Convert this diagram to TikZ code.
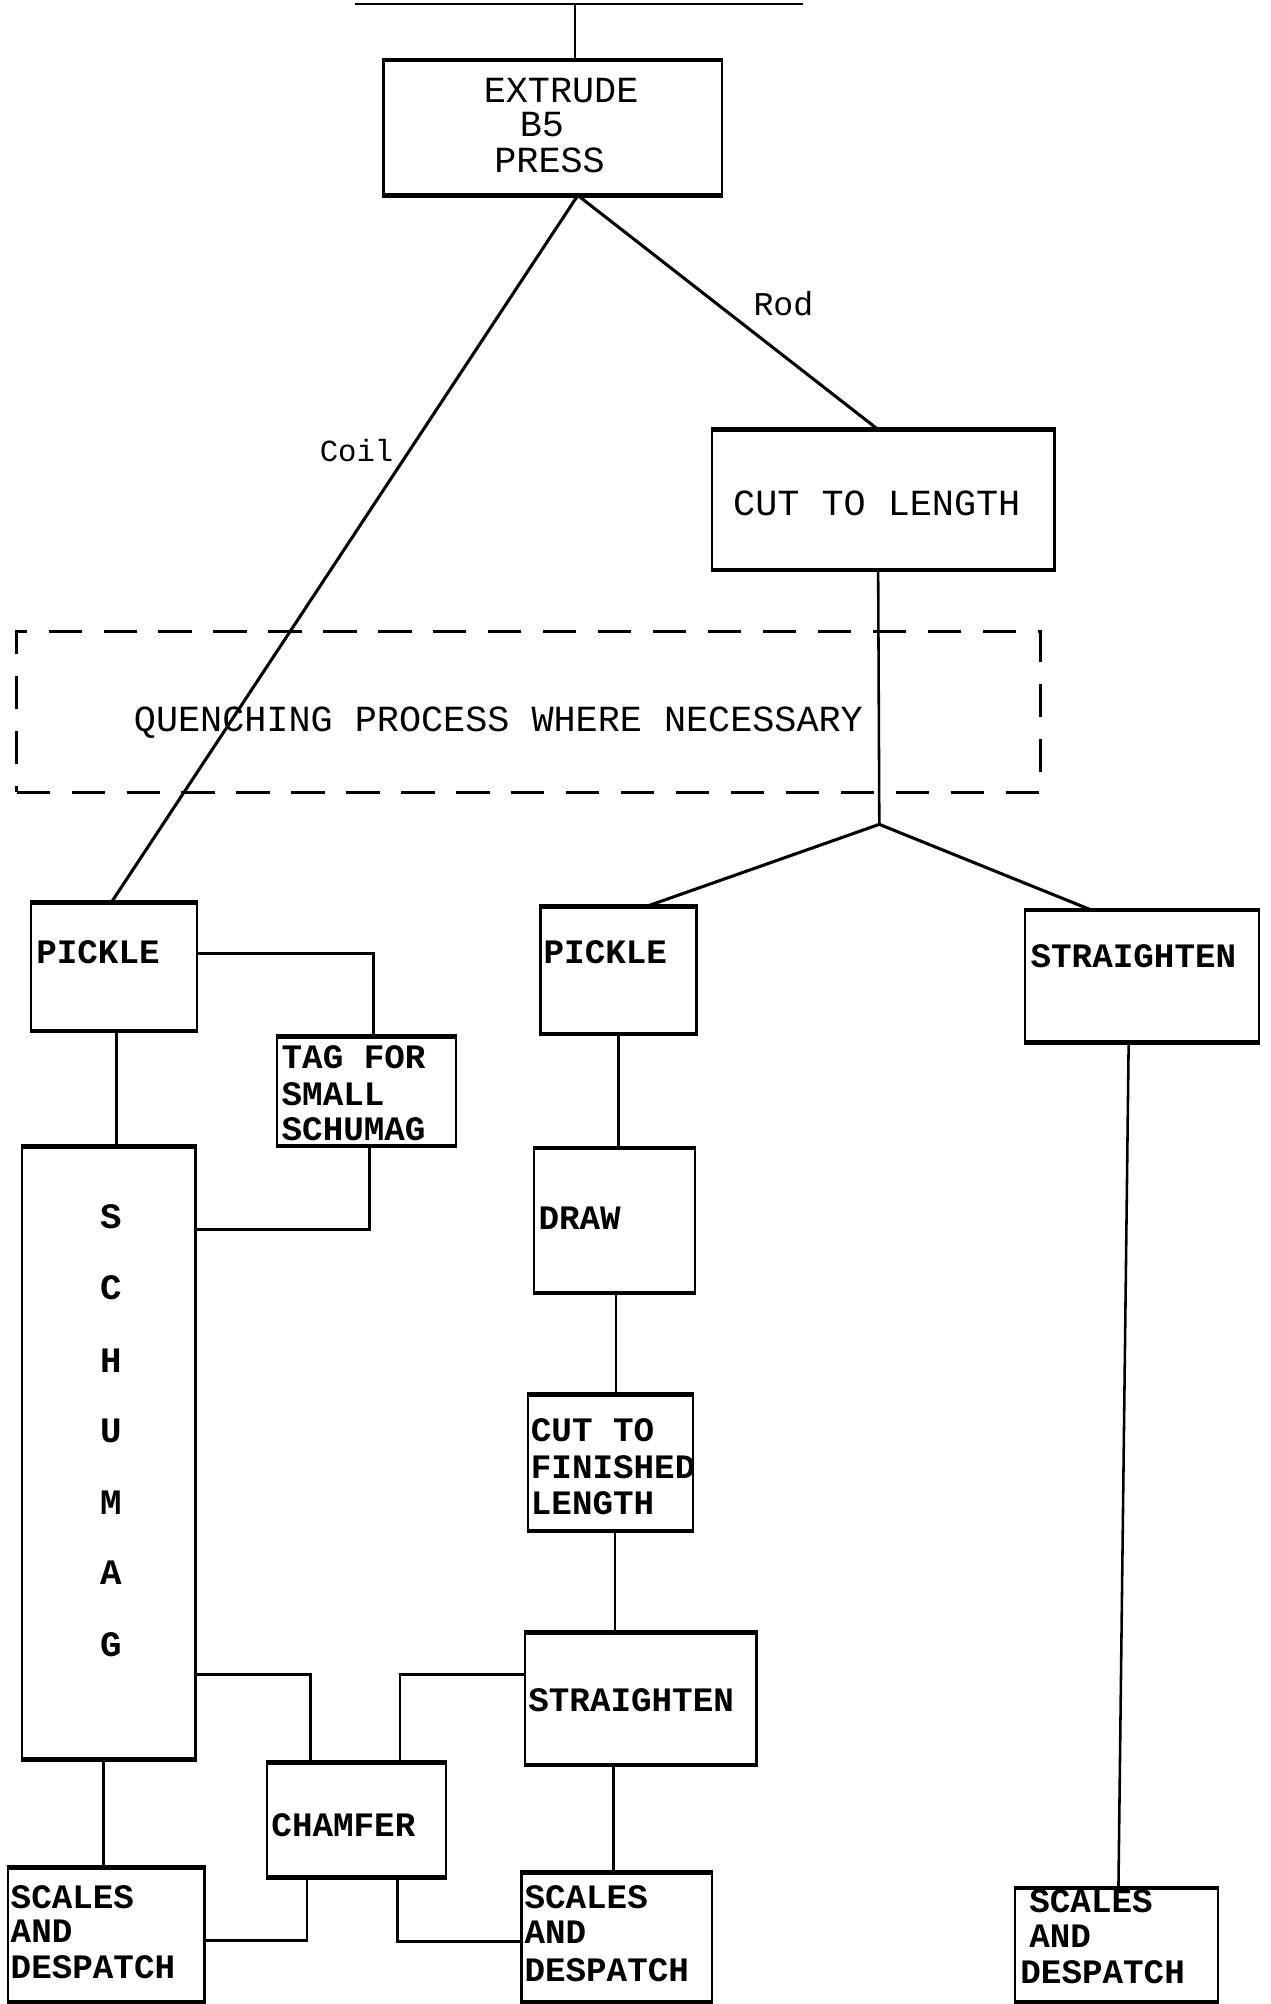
\documentclass[tikz,border=0pt]{standalone}
\usepackage{fontspec}
\newfontfamily\tw{Liberation Mono}
\usetikzlibrary{fit,calc}
\tikzset{
  box/.style={draw, line width=0.9pt, inner sep=0pt},
  edgeline/.style={line width=1.7pt},
  dashbox/.style={draw, line width=1.4pt, dash pattern=on 13pt off 8.5pt, inner sep=0pt},
  conn/.style={line width=1pt},
  diag/.style={line width=1.2pt},
  toptxt/.style={font=\tw\fontsize{14.4}{16}\selectfont, inner sep=0pt, anchor=base},
  labtxt/.style={font=\tw\fontsize{13}{15}\selectfont, inner sep=0pt, anchor=base},
  lowtxt/.style={font=\tw\fontsize{13.4}{15}\selectfont\bfseries, inner sep=0pt, anchor=base west},
  lettxt/.style={font=\tw\fontsize{14}{16}\selectfont\bfseries, inner sep=0pt, anchor=base},
}
\begin{document}
\begin{tikzpicture}[x=0.5pt,y=-0.5pt]
\useasboundingbox (0,0) rectangle (994,1568);

% boxes
\node[box, fit={(300,48) (565,152)}] (extrude) {};
\node[box, fit={(557,337) (825,445)}] (cutlen) {};
\node[dashbox, fit={(13,494) (814,620)}] (quench) {};
\node[box, fit={(24,707) (154,806)}] (pickleA) {};
\node[box, fit={(423,710) (545,808)}] (pickleB) {};
\node[box, fit={(802,713) (985,815)}] (straightA) {};
\node[box, fit={(217,812) (357,896)}] (tag) {};
\node[box, fit={(17,898) (153,1376)}] (schumag) {};
\node[box, fit={(418,899) (544,1011)}] (drawbox) {};
\node[box, fit={(413,1092) (542,1197)}] (cutfin) {};
\node[box, fit={(411,1278) (592,1380)}] (straightB) {};
\node[box, fit={(209,1380) (349,1468)}] (chamfer) {};
\node[box, fit={(6,1462) (160,1566)}] (scalesA) {};
\node[box, fit={(408,1466) (557,1566)}] (scalesB) {};
\node[box, fit={(794,1478) (953,1566)}] (scalesC) {};

\foreach \n in {extrude,cutlen,pickleA,pickleB,straightA,tag,schumag,drawbox,cutfin,straightB,chamfer,scalesA,scalesB,scalesC}
  \draw[edgeline] (\n.north west) -- (\n.north east) (\n.south west) -- (\n.south east);

% texts
\node[toptxt] (t1) at (439,80) {EXTRUDE};
\node[toptxt] (t2) at (424,107) {B5};
\node[toptxt] (t3) at (430,135) {PRESS};
\node[labtxt] (rod) at (613,247) {Rod};
\node[labtxt, font=\tw\fontsize{12}{14}\selectfont] (coil) at (279,361) {Coil};
\node[toptxt] (t4) at (686,403) {CUT TO LENGTH};
\node[toptxt] (t5) at (390,572) {QUENCHING PROCESS WHERE NECESSARY};

\node[lowtxt] (p1) at (28,754) {PICKLE};
\node[lowtxt] (p2) at (425,754) {PICKLE};
\node[lowtxt] (s1) at (806,757) {STRAIGHTEN};
\node[lowtxt] (g1) at (220,836) {TAG FOR};
\node[lowtxt] (g2) at (220,865) {SMALL};
\node[lowtxt] (g3) at (220,892) {SCHUMAG};
\node[lettxt] (l1) at (87,961) {S};
\node[lettxt] (l2) at (87,1017) {C};
\node[lettxt] (l3) at (87,1074) {H};
\node[lettxt] (l4) at (87,1129) {U};
\node[lettxt] (l5) at (87,1185) {M};
\node[lettxt] (l6) at (87,1240) {A};
\node[lettxt] (l7) at (87,1296) {G};
\node[lowtxt] (d1) at (421,962) {DRAW};
\node[lowtxt] (c1) at (415,1128) {CUT TO};
\node[lowtxt] (c2) at (415,1157) {FINISHED};
\node[lowtxt] (c3) at (415,1185) {LENGTH};
\node[lowtxt] (s2) at (413,1339) {STRAIGHTEN};
\node[lowtxt] (ch) at (212,1437) {CHAMFER};
\node[lowtxt] (a1) at (8,1493) {SCALES};
\node[lowtxt] (a2) at (8,1520) {AND};
\node[lowtxt] (a3) at (8,1548) {DESPATCH};
\node[lowtxt] (b1) at (410,1493) {SCALES};
\node[lowtxt] (b2) at (410,1521) {AND};
\node[lowtxt] (b3) at (410,1550) {DESPATCH};
\node[lowtxt] (e1) at (805,1496) {SCALES};
\node[lowtxt] (e2) at (805,1524) {AND};
\node[lowtxt] (e3) at (798,1552) {DESPATCH};

% connectors
\coordinate (busL) at (278,3);
\coordinate (busR) at (628,3);
\coordinate (busM) at (450,3);
\draw[conn] (busL) -- (busR);
\draw[conn] (busM) -- (busM |- extrude.north);
\coordinate (apex) at ($(extrude.south west)+(153,0)$);
\draw[diag] (apex) -- ($(pickleA.north west)+(64,0)$);
\draw[diag] (apex) -- ($(cutlen.north west)+(131,0)$);
\coordinate (branch) at (688,645);
\draw[conn] ($(cutlen.south west)+(131,0)$) -- (branch);
\draw[diag] (branch) -- ($(pickleB.north west)+(84,0)$);
\draw[diag] (branch) -- ($(straightA.north west)+(53,0)$);

\draw[conn] ($(pickleA.north east)+(0,40)$) -| ($(tag.north west)+(76,0)$);
\draw[conn] ($(pickleA.south west)+(68,0)$) -- ($(schumag.north west)+(75,0)$);
\draw[conn] ($(tag.south west)+(73,0)$) |- ($(schumag.north east)+(0,65)$);
\draw[conn] ($(pickleB.south west)+(62,0)$) -- ($(drawbox.north west)+(67,0)$);
\draw[conn] ($(drawbox.south west)+(65,0)$) -- ($(cutfin.north west)+(70,0)$);
\draw[conn] ($(cutfin.south west)+(69,0)$) -- ($(straightB.north west)+(71,0)$);
\draw[conn] ($(straightB.south west)+(70,0)$) -- ($(scalesB.north west)+(73,0)$);
\draw[conn] ($(schumag.south west)+(65,0)$) -- ($(scalesA.north west)+(76,0)$);
\draw[conn] ($(schumag.north east)+(0,413)$) -| ($(chamfer.north west)+(35,0)$);
\draw[conn] ($(straightB.north west)+(0,33)$) -| ($(chamfer.north west)+(105,0)$);
\draw[conn] ($(chamfer.south west)+(32,0)$) |- ($(scalesA.north east)+(0,57)$);
\draw[conn] ($(chamfer.south west)+(103,0)$) |- ($(scalesB.north west)+(0,54)$);
\draw[conn] ($(straightA.south west)+(82,0)$) -- ($(scalesC.north west)+(82,0)$);
\end{tikzpicture}
\end{document}
